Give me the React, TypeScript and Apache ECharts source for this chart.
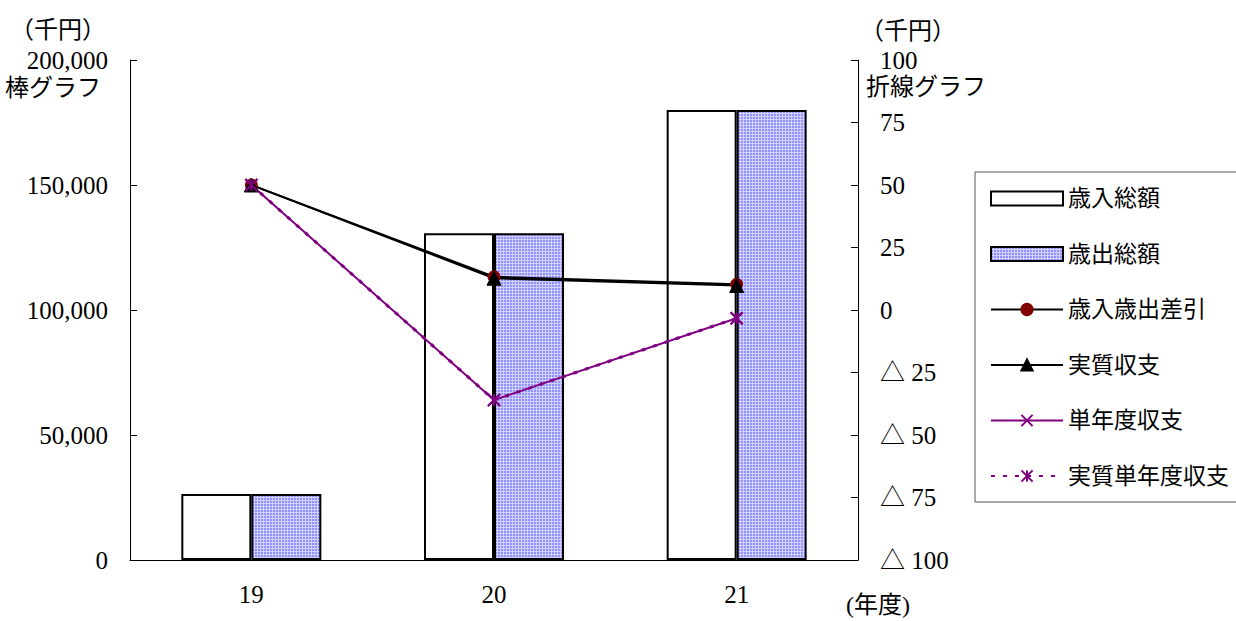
import React, { useEffect, useRef } from "react";
import * as echarts from "echarts";

// 年度
const years = ["19", "20", "21"];
// 棒グラフ（千円）
const revenueTotal = [26400, 130700, 180000]; // 歳入総額
const expenditureTotal = [26400, 130700, 180000]; // 歳出総額
// 折線グラフ（千円）
const balance = [50, 13.3, 10.3]; // 歳入歳出差引
const realBalance = [50, 12.7, 9.8]; // 実質収支
const singleYearBalance = [50, -36, -3.3]; // 単年度収支
const realSingleYearBalance = [50, -36, -3.3]; // 実質単年度収支

const leftTicks = { min: 0, max: 200000, interval: 50000 };
const rightTicks = { min: -100, max: 100, interval: 25 };

const FONT = "'Liberation Serif', 'Noto Sans CJK JP', serif";

function dottedFill() {
  const tile = document.createElement("canvas");
  tile.width = 3;
  tile.height = 3;
  const ctx = tile.getContext("2d")!;
  ctx.fillStyle = "#d0d0ff";
  ctx.fillRect(0, 0, 3, 3);
  ctx.fillStyle = "#9090ff";
  ctx.fillRect(0, 0, 2, 2);
  return { image: tile, repeat: "repeat", imageWidth: 3, imageHeight: 3 } as any;
}

export default function App() {
  const ref = useRef<HTMLDivElement>(null);

  useEffect(() => {
    const chart = echarts.init(ref.current!, null, { renderer: "svg" });
    const pattern = dottedFill();

    const option: any = {
      animation: false,
      backgroundColor: "#fff",
      textStyle: { fontFamily: FONT, color: "#000" },
      grid: { left: 130, right: 378, top: 60, bottom: 61 },
      xAxis: {
        type: "category",
        data: years,
        boundaryGap: true,
        axisLine: { lineStyle: { color: "#000", width: 1 } },
        axisTick: { inside: true, length: 7, lineStyle: { color: "#000" } },
        axisLabel: { color: "#000", fontSize: 25, fontFamily: FONT, margin: 22 },
      },
      yAxis: [
        {
          type: "value",
          ...leftTicks,
          position: "left",
          axisLine: { show: true, lineStyle: { color: "#000", width: 1 } },
          axisTick: { show: true, inside: true, length: 7, lineStyle: { color: "#000" } },
          splitLine: { show: false },
          axisLabel: {
            color: "#000",
            fontSize: 25,
            fontFamily: FONT,
            margin: 22,
            formatter: (v: number) => v.toLocaleString("en-US"),
          },
        },
        {
          type: "value",
          ...rightTicks,
          position: "right",
          axisLine: { show: true, lineStyle: { color: "#000", width: 1 } },
          axisTick: { show: true, inside: true, length: 7, lineStyle: { color: "#000" } },
          splitLine: { show: false },
          axisLabel: {
            color: "#000",
            fontSize: 25,
            fontFamily: FONT,
            margin: 22,
            formatter: (v: number) => (v < 0 ? "△ " + -v : String(v)),
          },
        },
      ],
      legend: {
        orient: "vertical",
        left: 990,
        top: 187,
        padding: 0,
        itemWidth: 72,
        itemHeight: 14,
        itemGap: 32.5,
        textStyle: { fontSize: 23, color: "#000", fontFamily: FONT },
        data: [
          { name: "歳入総額", icon: "rect" },
          { name: "歳出総額", icon: "rect" },
          "歳入歳出差引",
          "実質収支",
          "単年度収支",
          "実質単年度収支",
        ],
      },
      graphic: [
        {
          type: "rect",
          shape: { x: 975, y: 172, width: 280, height: 330 },
          style: { fill: "none", stroke: "#555", lineWidth: 1 },
          z: -1,
        },
        {
          type: "text",
          x: 58,
          y: 30,
          style: { text: "（千円）", font: `24px ${FONT}`, fill: "#000", align: "center", verticalAlign: "middle" },
        },
        {
          type: "text",
          x: 53,
          y: 88,
          style: { text: "棒グラフ", font: `24px ${FONT}`, fill: "#000", align: "center", verticalAlign: "middle" },
        },
        {
          type: "text",
          x: 908,
          y: 31,
          style: { text: "（千円）", font: `24px ${FONT}`, fill: "#000", align: "center", verticalAlign: "middle" },
        },
        {
          type: "text",
          x: 866,
          y: 87,
          style: { text: "折線グラフ", font: `24px ${FONT}`, fill: "#000", align: "left", verticalAlign: "middle" },
        },
        {
          type: "text",
          x: 878,
          y: 605,
          style: { text: "(年度)", font: `24px ${FONT}`, fill: "#000", align: "center", verticalAlign: "middle" },
        },
      ],
      series: [
        {
          name: "歳入総額",
          type: "bar",
          data: revenueTotal,
          barWidth: 70,
          barGap: "0%",
          itemStyle: { color: "#fff", borderColor: "#000", borderWidth: 2 },
        },
        {
          name: "歳出総額",
          type: "bar",
          data: expenditureTotal,
          barWidth: 70,
          barGap: "0%",
          itemStyle: { color: pattern, borderColor: "#000", borderWidth: 2 },
        },
        {
          name: "歳入歳出差引",
          type: "line",
          yAxisIndex: 1,
          data: balance,
          symbol: "circle",
          symbolSize: 12,
          lineStyle: { color: "#000", width: 2 },
          itemStyle: { color: "#800000", borderColor: "#800000", borderWidth: 1 },
        },
        {
          name: "実質収支",
          type: "line",
          yAxisIndex: 1,
          data: realBalance,
          symbol: "triangle",
          symbolSize: 14,
          lineStyle: { color: "#000", width: 2 },
          itemStyle: { color: "#000", borderColor: "#000", borderWidth: 1 },
        },
        {
          name: "単年度収支",
          type: "line",
          yAxisIndex: 1,
          data: singleYearBalance,
          symbol: "path://M0,0L10,10M10,0L0,10",
          symbolSize: 12,
          lineStyle: { color: "#800080", width: 2 },
          itemStyle: { color: "#800080", borderColor: "#800080", borderWidth: 2 },
        },
        {
          name: "実質単年度収支",
          type: "line",
          yAxisIndex: 1,
          data: realSingleYearBalance,
          symbol: "path://M0,0L10,10M10,0L0,10M5,0L5,10",
          symbolSize: 12,
          lineStyle: { color: "#800080", width: 3, type: [4, 8] },
          itemStyle: { color: "#800080", borderColor: "#800080", borderWidth: 2 },
        },
      ],
    };

    chart.setOption(option);
    return () => chart.dispose();
  }, []);

  return (
    <div
      ref={ref}
      style={{ position: "fixed", left: 0, top: 0, width: 1236, height: 621, background: "#fff" }}
    />
  );
}
